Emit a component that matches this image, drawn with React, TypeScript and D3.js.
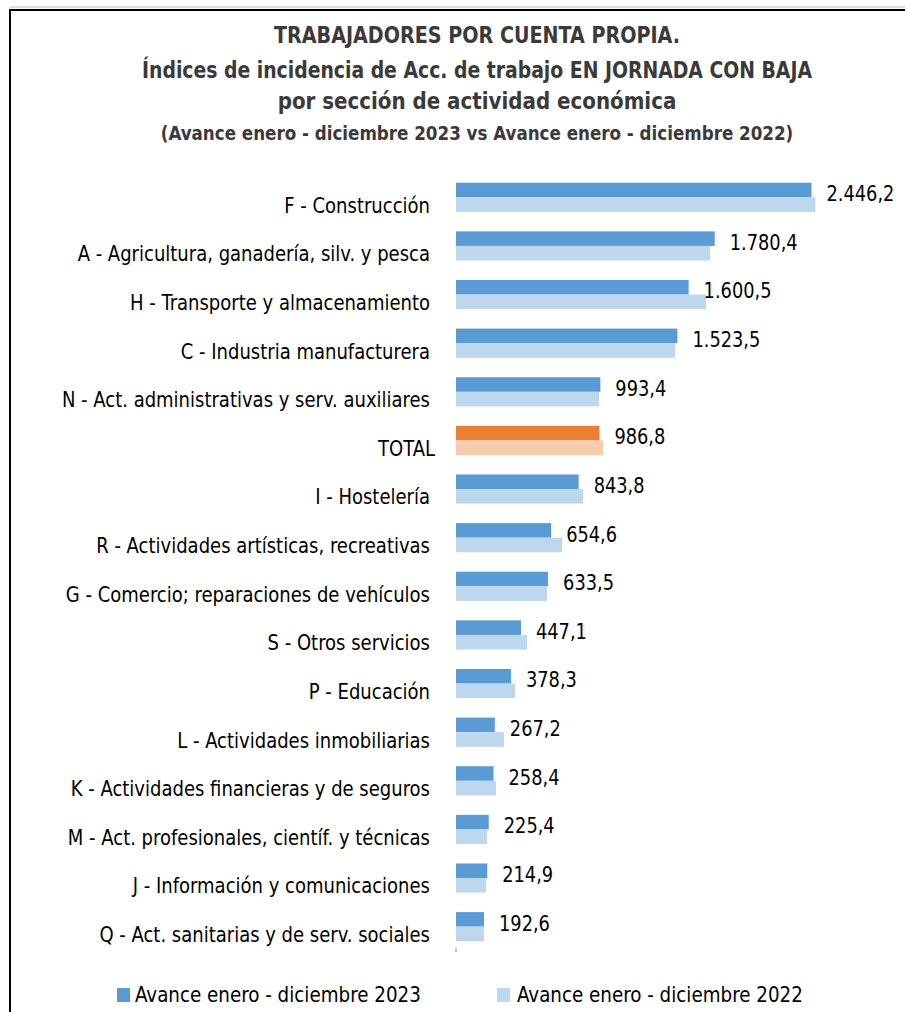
import React from "react";
import * as d3 from "d3";

const categories = [
  "F - Construcción",
  "A - Agricultura, ganadería, silv. y pesca",
  "H - Transporte y almacenamiento",
  "C - Industria manufacturera",
  "N - Act. administrativas y serv. auxiliares",
  "TOTAL",
  "I - Hostelería",
  "R - Actividades artísticas, recreativas",
  "G - Comercio; reparaciones de vehículos",
  "S - Otros servicios",
  "P - Educación",
  "L - Actividades inmobiliarias",
  "K - Actividades financieras y de seguros",
  "M - Act. profesionales, científ. y técnicas",
  "J - Información y comunicaciones",
  "Q - Act. sanitarias y de serv. sociales",
];

const values2023 = [2446.2, 1780.4, 1600.5, 1523.5, 993.4, 986.8, 843.8, 654.6, 633.5, 447.1, 378.3, 267.2, 258.4, 225.4, 214.9, 192.6];
const values2022 = [2472, 1748, 1720, 1507, 984, 1012, 874, 730, 626, 489, 406, 330, 275, 213, 206, 192];

const seriesNames = ["Avance enero - diciembre 2023", "Avance enero - diciembre 2022"];
const titleLines = [
  "TRABAJADORES POR CUENTA PROPIA.",
  "Índices de incidencia de Acc. de trabajo EN JORNADA CON BAJA",
  "por sección de actividad económica",
  "(Avance enero - diciembre 2023 vs Avance enero - diciembre 2022)",
];
const xDomain = [0, 3000];

const W = 905;
const H = 1012;
const FONT = "'Liberation Sans Narrow', 'Arial Narrow', 'DejaVu Sans Condensed', sans-serif";

const C2023 = "#5B9BD5";
const C2022 = "#BDD7EE";
const T2023 = "#ED7D31";
const T2022 = "#F8CBAD";

const locale = d3.formatLocale({ decimal: ",", thousands: ".", grouping: [3], currency: ["", "€"] });
const fmt = locale.format(",.1f");

function T({ x, y, sx, size, anchor = "start", weight = "normal", fill = "#000", children }: any) {
  return (
    <text
      transform={`translate(${x},${y}) scale(${sx},1)`}
      fontFamily={FONT}
      fontSize={size}
      fontWeight={weight}
      fill={fill}
      textAnchor={anchor}
    >
      {children}
    </text>
  );
}

export default function App() {
  const x = d3.scaleLinear().domain(xDomain).range([456, 892]);
  const y = d3.scaleBand<string>().domain(categories).range([173, 951]).paddingInner(0.4).paddingOuter(0.2);
  const sub = d3.scaleBand<string>().domain(["2023", "2022"]).range([0, y.bandwidth()]);

  const rows = categories.map((c, i) => ({ c, v23: values2023[i], v22: values2022[i], total: c === "TOTAL" }));

  return (
    <div style={{ position: "absolute", left: 0, top: 0 }}>
      <svg width={W} height={H} style={{ display: "block", background: "#fff" }}>
        <line x1={10} x2={W} y1={7} y2={7} stroke="#bbb" strokeWidth={1} />
        <path d={`M${W},10 H10 V${H}`} fill="none" stroke="#000" strokeWidth={2} />
        <T x={477} y={43} sx={0.925} size={23} anchor="middle" weight="bold" fill="#3a3a3a">{titleLines[0]}</T>
        <T x={477} y={78} sx={0.91} size={23} anchor="middle" weight="bold" fill="#3a3a3a">{titleLines[1]}</T>
        <T x={477} y={109} sx={0.96} size={23} anchor="middle" weight="bold" fill="#3a3a3a">{titleLines[2]}</T>
        <T x={477} y={140} sx={0.93} size={20} anchor="middle" weight="bold" fill="#3a3a3a">{titleLines[3]}</T>
        <g>
          {rows.map((r) => {
            const y0 = y(r.c)!;
            return (
              <g key={r.c}>
                <rect x={x(0)} y={y0 + sub("2023")!} width={x(r.v23) - x(0)} height={sub.bandwidth()} fill={r.total ? T2023 : C2023} />
                <rect x={x(0)} y={y0 + sub("2022")!} width={x(r.v22) - x(0)} height={sub.bandwidth()} fill={r.total ? T2022 : C2022} />
                <T x={x(r.v23) + 15} y={y0 + 18.5} sx={0.9} size={22}>{fmt(r.v23)}</T>
                <T x={r.total ? 435 : 430} y={y0 + 30} sx={0.94} size={21.3} anchor="end">{r.c}</T>
              </g>
            );
          })}
          <line x1={x(0)} x2={x(0)} y1={948} y2={952} stroke="#999" strokeWidth={1} />
        </g>
        <rect x={117} y={988} width={13} height={14} fill={C2023} />
        <T x={135} y={1002} sx={0.955} size={21.3}>{seriesNames[0]}</T>
        <rect x={497} y={988} width={13} height={14} fill={C2022} />
        <T x={517} y={1002} sx={0.955} size={21.3}>{seriesNames[1]}</T>
      </svg>
    </div>
  );
}
